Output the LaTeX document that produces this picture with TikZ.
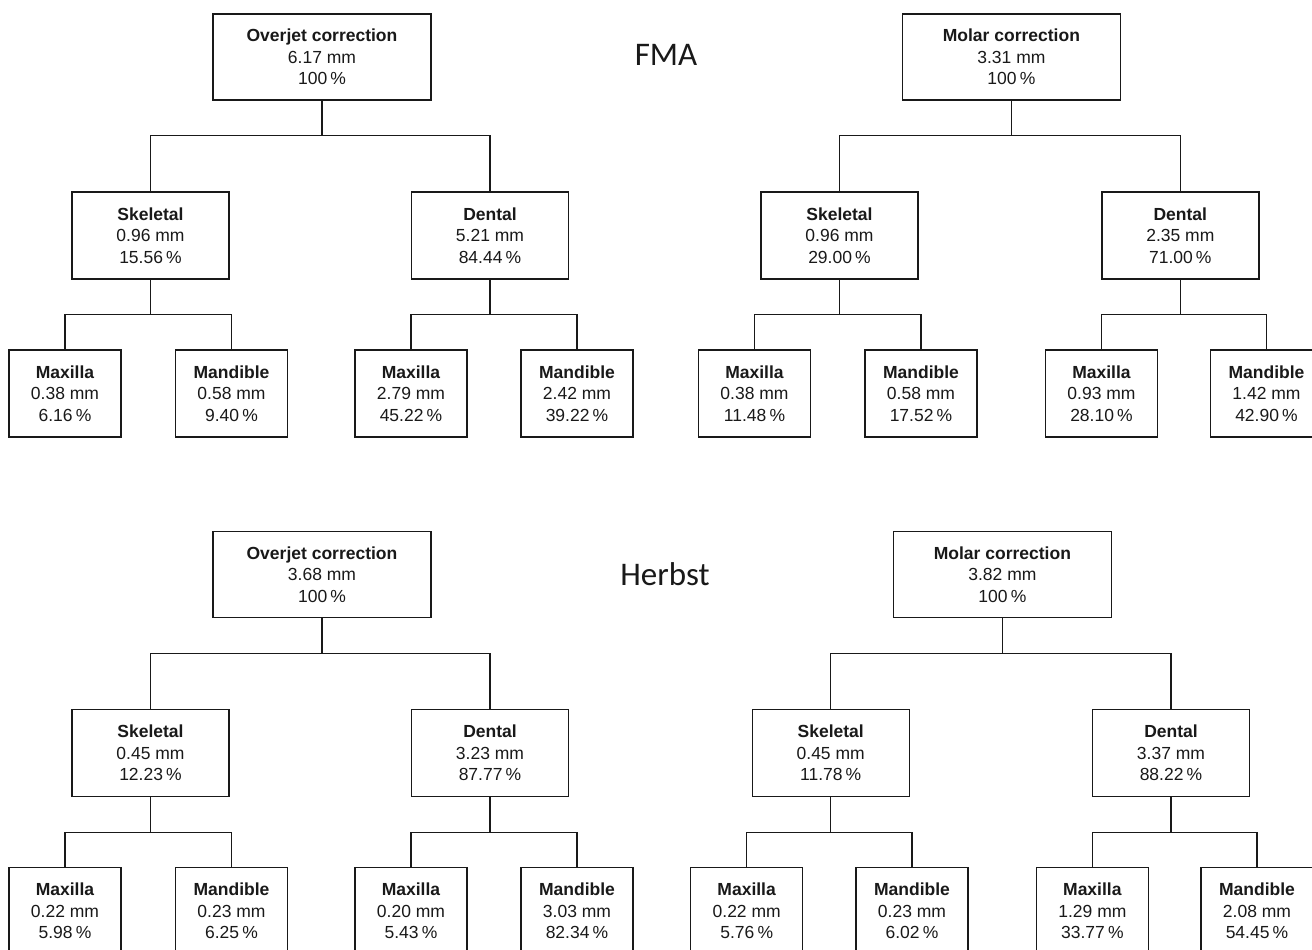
\documentclass[tikz,border=0pt]{standalone}
\usepackage{fontspec}
\setmainfont{Liberation Sans}
\newfontfamily\labelfont{Carlito}
\definecolor{ink}{RGB}{25,25,25}
\newcommand\mypct{\hspace{0.18em}\%}
\begin{document}
\begin{tikzpicture}[x=1pt,y=-1pt,
  box/.style={draw=ink, line width=1.4pt, fill=white, inner sep=0pt, align=center,
    font=\fontsize{17.5}{21.5}\selectfont, text=ink},
  topbox/.style={box, minimum width=218pt, minimum height=86pt},
  midbox/.style={box, minimum width=157pt, minimum height=87pt},
  leafbox/.style={box, minimum width=112pt, minimum height=87pt},
  link/.style={draw=ink, line width=1.3pt},
  title/.style={font=\labelfont\fontsize{33}{33}\selectfont, text=ink, anchor=base}]
\clip (0,0) rectangle (1312,950);
\fill[white] (0,0) rectangle (1312,950);

% ---------- FMA ----------
\node[title] (fma) at (666,65.7) {FMA};

\node[topbox] (ovA) at (322,57) {\textbf{Overjet correction}\\6.17 mm\\100\mypct};
\node[midbox] (skA) at (150.5,235.5) {\textbf{Skeletal}\\0.96 mm\\15.56\mypct};
\node[midbox] (deA) at (490,235.5) {\textbf{Dental}\\5.21 mm\\84.44\mypct};
\node[leafbox] (a1) at (65,393.5) {\textbf{Maxilla}\\0.38 mm\\6.16\mypct};
\node[leafbox] (a2) at (231.5,393.5) {\textbf{Mandible}\\0.58 mm\\9.40\mypct};
\node[leafbox] (a3) at (411,393.5) {\textbf{Maxilla}\\2.79 mm\\45.22\mypct};
\node[leafbox] (a4) at (577,393.5) {\textbf{Mandible}\\2.42 mm\\39.22\mypct};

\node[topbox] (moB) at (1011.4,57) {\textbf{Molar correction}\\3.31 mm\\100\mypct};
\node[midbox] (skB) at (839.5,235.5) {\textbf{Skeletal}\\0.96 mm\\29.00\mypct};
\node[midbox] (deB) at (1180.3,235.5) {\textbf{Dental}\\2.35 mm\\71.00\mypct};
\node[leafbox] (b1) at (754.5,393.5) {\textbf{Maxilla}\\0.38 mm\\11.48\mypct};
\node[leafbox] (b2) at (921,393.5) {\textbf{Mandible}\\0.58 mm\\17.52\mypct};
\node[leafbox] (b3) at (1101.5,393.5) {\textbf{Maxilla}\\0.93 mm\\28.10\mypct};
\node[leafbox] (b4) at (1266.5,393.5) {\textbf{Mandible}\\1.42 mm\\42.90\mypct};

% ---------- Herbst ----------
\node[title] (herbst) at (665,585.7) {Herbst};

\node[topbox] (ovC) at (322,574.5) {\textbf{Overjet correction}\\3.68 mm\\100\mypct};
\node[midbox] (skC) at (150.5,753) {\textbf{Skeletal}\\0.45 mm\\12.23\mypct};
\node[midbox] (deC) at (490,753) {\textbf{Dental}\\3.23 mm\\87.77\mypct};
\node[leafbox] (c1) at (65,911) {\textbf{Maxilla}\\0.22 mm\\5.98\mypct};
\node[leafbox] (c2) at (231.5,911) {\textbf{Mandible}\\0.23 mm\\6.25\mypct};
\node[leafbox] (c3) at (411,911) {\textbf{Maxilla}\\0.20 mm\\5.43\mypct};
\node[leafbox] (c4) at (577,911) {\textbf{Mandible}\\3.03 mm\\82.34\mypct};

\node[topbox] (moD) at (1002.4,574.5) {\textbf{Molar correction}\\3.82 mm\\100\mypct};
\node[midbox] (skD) at (830.7,753) {\textbf{Skeletal}\\0.45 mm\\11.78\mypct};
\node[midbox] (deD) at (1171,753) {\textbf{Dental}\\3.37 mm\\88.22\mypct};
\node[leafbox] (d1) at (746.7,911) {\textbf{Maxilla}\\0.22 mm\\5.76\mypct};
\node[leafbox] (d2) at (912,911) {\textbf{Mandible}\\0.23 mm\\6.02\mypct};
\node[leafbox] (d3) at (1092.4,911) {\textbf{Maxilla}\\1.29 mm\\33.77\mypct};
\node[leafbox] (d4) at (1257,911) {\textbf{Mandible}\\2.08 mm\\54.45\mypct};

% ---------- connectors ----------
\foreach \p/\l/\r in {ovA/skA/deA, skA/a1/a2, deA/a3/a4,
                      moB/skB/deB, skB/b1/b2, deB/b3/b4,
                      ovC/skC/deC, skC/c1/c2, deC/c3/c4,
                      moD/skD/deD, skD/d1/d2, deD/d3/d4}{
  \draw[link] (\p.south) -- ++(0,35) coordinate (bus-\p);
  \draw[link] (\l.north) |- (bus-\p) -| (\r.north);
}
\end{tikzpicture}
\end{document}
